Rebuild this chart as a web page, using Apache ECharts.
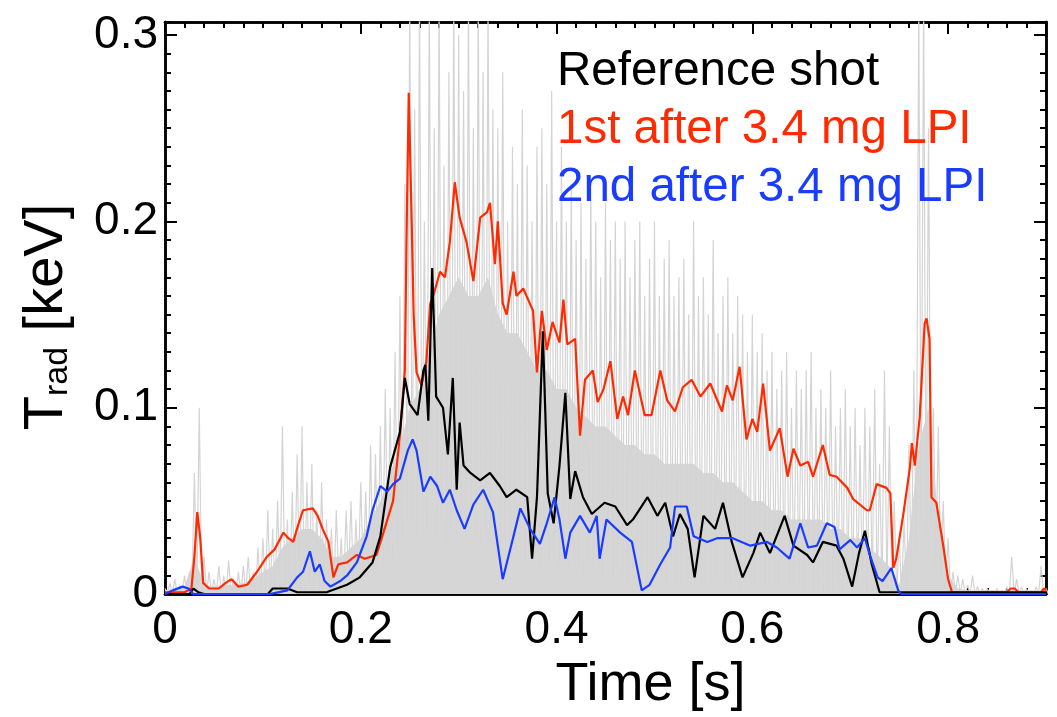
<!DOCTYPE html>
<html>
<head>
    <meta charset="utf-8">
    <title>Trad time traces</title>
    <script src="https://cdn.jsdelivr.net/npm/echarts@6/dist/echarts.min.js"></script>
    <style>
        html, body { margin: 0; padding: 0; background: #fff; }
        #main { width: 1057px; height: 717px; }
    </style>
</head>
<body>
<div id="main"></div>
<script type="text/javascript">
    // curves: [time s, Trad keV]
    var red = [
        [0,0.001],[0.02,0.001],[0.027,0.003],[0.030,0.02],[0.033,0.044],[0.036,0.03],[0.039,0.006],[0.045,0.003],
        [0.055,0.003],[0.062,0.006],[0.068,0.008],[0.075,0.004],[0.084,0.005],[0.094,0.012],[0.104,0.020],[0.112,0.024],
        [0.121,0.033],[0.126,0.030],[0.131,0.028],[0.136,0.037],[0.141,0.045],[0.151,0.046],[0.156,0.042],[0.161,0.035],
        [0.167,0.028],[0.172,0.009],[0.177,0.016],[0.186,0.017],[0.196,0.021],[0.204,0.019],[0.216,0.021],[0.222,0.031],
        [0.233,0.050],[0.240,0.085],[0.245,0.12],[0.247,0.2],[0.249,0.269],[0.252,0.2],[0.254,0.15],[0.257,0.119],
        [0.262,0.112],[0.267,0.125],[0.271,0.156],[0.274,0.160],[0.281,0.173],[0.286,0.170],[0.291,0.189],[0.296,0.221],
        [0.301,0.202],[0.308,0.189],[0.315,0.168],[0.322,0.202],[0.329,0.205],[0.332,0.210],[0.337,0.177],[0.340,0.200],
        [0.345,0.156],[0.349,0.150],[0.356,0.173],[0.359,0.160],[0.366,0.164],[0.376,0.152],[0.380,0.119],[0.385,0.152],
        [0.390,0.131],[0.396,0.146],[0.403,0.135],[0.407,0.158],[0.411,0.134],[0.419,0.137],[0.424,0.085],[0.429,0.115],
        [0.437,0.120],[0.442,0.103],[0.448,0.110],[0.455,0.125],[0.462,0.094],[0.468,0.106],[0.473,0.096],[0.480,0.120],
        [0.490,0.096],[0.497,0.096],[0.506,0.120],[0.513,0.104],[0.521,0.098],[0.529,0.111],[0.538,0.115],[0.547,0.106],
        [0.557,0.113],[0.569,0.098],[0.574,0.112],[0.580,0.104],[0.587,0.122],[0.594,0.083],[0.600,0.094],[0.605,0.087],
        [0.611,0.113],[0.618,0.077],[0.628,0.089],[0.636,0.063],[0.642,0.078],[0.649,0.069],[0.657,0.071],[0.662,0.063],
        [0.672,0.080],[0.679,0.064],[0.686,0.063],[0.697,0.057],[0.703,0.051],[0.717,0.045],[0.720,0.045],[0.727,0.059],
        [0.737,0.057],[0.741,0.054],[0.744,0.014],[0.747,0.019],[0.754,0.042],[0.761,0.068],[0.763,0.081],[0.766,0.069],
        [0.771,0.095],[0.776,0.145],[0.778,0.148],[0.781,0.137],[0.783,0.052],[0.788,0.049],[0.795,0.026],[0.800,0.008],
        [0.804,0.001],[0.86,0.001],[0.864,0.003],[0.868,0.003],[0.872,0.001],[0.895,0.001],[0.898,0.003],[0.9,0.002]
    ];
    var black = [
        [0,0],[0.025,0],[0.029,0.003],[0.034,0.001],[0.04,0],[0.105,0],[0.110,0.003],[0.125,0.003],[0.135,0.001],
        [0.165,0.001],[0.186,0.005],[0.199,0.009],[0.212,0.017],[0.220,0.031],[0.230,0.068],[0.240,0.087],[0.245,0.116],
        [0.250,0.102],[0.258,0.096],[0.264,0.120],[0.266,0.123],[0.269,0.093],[0.273,0.175],[0.277,0.106],[0.284,0.100],
        [0.289,0.075],[0.294,0.116],[0.298,0.056],[0.301,0.092],[0.305,0.069],[0.312,0.065],[0.322,0.061],[0.332,0.065],
        [0.342,0.058],[0.349,0.052],[0.359,0.056],[0.370,0.052],[0.375,0.019],[0.380,0.052],[0.386,0.141],[0.391,0.054],
        [0.397,0.038],[0.403,0.069],[0.409,0.108],[0.414,0.051],[0.419,0.066],[0.427,0.052],[0.436,0.043],[0.449,0.049],
        [0.460,0.047],[0.472,0.037],[0.478,0.040],[0.493,0.052],[0.503,0.042],[0.511,0.049],[0.519,0.031],[0.526,0.043],
        [0.534,0.035],[0.541,0.009],[0.550,0.042],[0.562,0.035],[0.570,0.049],[0.579,0.028],[0.590,0.009],[0.601,0.022],
        [0.608,0.033],[0.618,0.022],[0.633,0.042],[0.642,0.026],[0.656,0.021],[0.662,0.017],[0.672,0.028],[0.686,0.026],
        [0.693,0.019],[0.702,0.004],[0.709,0.022],[0.715,0.034],[0.722,0.016],[0.730,0.001],[0.9,0.001]
    ];
    var blue = [
        [0,0],[0.008,0.002],[0.018,0.004],[0.024,0.003],[0.029,0],[0.107,0],[0.125,0.002],[0.135,0.009],[0.141,0.012],
        [0.148,0.023],[0.153,0.012],[0.158,0.016],[0.163,0.007],[0.169,0.004],[0.179,0.007],[0.186,0.010],[0.196,0.017],
        [0.206,0.031],[0.212,0.045],[0.220,0.058],[0.227,0.055],[0.233,0.059],[0.240,0.062],[0.248,0.077],[0.253,0.083],
        [0.257,0.077],[0.264,0.055],[0.271,0.063],[0.278,0.058],[0.284,0.049],[0.291,0.056],[0.298,0.045],[0.306,0.035],
        [0.315,0.048],[0.325,0.056],[0.335,0.044],[0.345,0.008],[0.356,0.031],[0.363,0.046],[0.373,0.035],[0.383,0.027],
        [0.390,0.038],[0.398,0.052],[0.403,0.040],[0.409,0.019],[0.414,0.033],[0.424,0.042],[0.434,0.033],[0.441,0.042],
        [0.444,0.019],[0.451,0.040],[0.465,0.033],[0.477,0.028],[0.487,0.002],[0.495,0.005],[0.506,0.016],[0.516,0.025],
        [0.521,0.047],[0.533,0.047],[0.540,0.031],[0.554,0.028],[0.564,0.030],[0.580,0.030],[0.598,0.026],[0.615,0.028],
        [0.625,0.025],[0.638,0.019],[0.649,0.038],[0.657,0.025],[0.666,0.026],[0.676,0.038],[0.684,0.036],[0.689,0.024],
        [0.700,0.029],[0.707,0.025],[0.715,0.030],[0.720,0.021],[0.728,0.009],[0.733,0.007],[0.742,0.014],[0.749,0.002],
        [0.752,0],[0.9,0]
    ];

    // raw grey signal: spike tops and troughs every 5 ms, t = 0 ... 0.9
    var greyStep = 0.005;
    var greyHigh = [
        0.003,0.006,0.008,0.005,0.01,0.012,0.065,0.10,0.02,0.012,0.008,0.015,0.01,0.018,0.008,0.012,0.015,0.02,0.012,0.025,
        0.03,0.045,0.035,0.05,0.09,0.04,0.055,0.075,0.09,0.06,0.07,0.045,0.06,0.04,0.035,0.045,0.03,0.045,0.05,0.04,
        0.06,0.055,0.08,0.075,0.09,0.11,0.10,0.13,0.16,0.22,0.32,0.26,0.32,0.2,0.32,0.25,0.32,0.23,0.28,0.32,
        0.30,0.27,0.32,0.25,0.32,0.28,0.32,0.26,0.25,0.28,0.2,0.24,0.22,0.26,0.23,0.2,0.24,0.25,0.22,0.27,
        0.2,0.24,0.2,0.22,0.19,0.21,0.18,0.22,0.2,0.17,0.21,0.19,0.2,0.18,0.2,0.17,0.19,0.2,0.16,0.18,
        0.2,0.16,0.18,0.19,0.16,0.17,0.18,0.15,0.2,0.16,0.17,0.15,0.19,0.14,0.16,0.17,0.14,0.16,0.15,0.13,
        0.15,0.13,0.14,0.12,0.13,0.11,0.12,0.13,0.1,0.12,0.11,0.12,0.13,0.1,0.11,0.1,0.12,0.09,0.1,0.11,
        0.09,0.1,0.08,0.1,0.09,0.11,0.07,0.12,0.09,0.05,0.03,0.04,0.08,0.12,0.32,0.32,0.25,0.1,0.09,0.05,
        0.03,0.012,0.01,0.008,0.005,0.01,0.004,0.003,0.003,0.002,0.003,0.002,0.004,0.02,0.008,0.004,0.003,0.002,0.004,0.015,0.003
    ];
    var greyLow = [
        0,0,0,0,0,0,0,0,0,0,0,0,0,0,0,0,0,0,0,0,
        0,0.002,0,0.003,0.001,0,0.004,0.002,0,0.005,0.002,0,0.003,0.005,0.002,0.006,0.004,0.008,0.005,0.01,
        0.008,0.012,0.01,0.015,0.012,0.02,0.018,0.025,0.03,0.035,0.04,0.03,0.05,0.035,0.045,0.03,0.04,0.025,0.035,0.03,
        0.04,0.028,0.035,0.03,0.025,0.032,0.028,0.03,0.022,0.03,0.025,0.02,0.028,0.018,0.025,0.02,0.015,0.022,0.018,0.02,
        0.015,0.02,0.012,0.018,0.015,0.01,0.016,0.012,0.015,0.01,0.012,0.008,0.014,0.01,0.006,0.012,0.008,0.01,0.005,0.009,
        0.007,0.01,0.005,0.008,0.006,0.004,0.008,0.005,0.007,0.004,0.006,0.004,0.007,0.003,0.005,0.004,0.006,0.003,0.005,0.002,
        0.004,0.003,0.005,0.002,0.004,0.003,0.002,0.004,0.002,0.003,0.002,0.004,0.002,0.003,0.001,0.003,0.002,0.004,0.002,0.003,
        0.001,0.002,0.003,0.001,0.002,0.001,0.002,0.001,0.001,0,0,0,0.005,0.02,0.04,0.03,0.035,0.015,0.01,0.005,
        0,0,0,0,0,0,0,0,0,0,0,0,0,0,0,0,0,0,0,0,0
    ];
    // upper edge of the nearly solid grey core, every 10 ms
    var coreStep = 0.01;
    var greyCore = [
        0.002,0.003,0.004,0.02,0.005,0.004,0.005,0.005,0.006,0.008,
        0.012,0.015,0.025,0.03,0.035,0.035,0.03,0.02,0.02,0.025,
        0.03,0.04,0.05,0.065,0.08,0.1,0.11,0.13,0.15,0.16,
        0.17,0.16,0.16,0.17,0.15,0.14,0.14,0.13,0.12,0.12,
        0.11,0.11,0.1,0.095,0.09,0.09,0.085,0.08,0.08,0.075,
        0.075,0.07,0.07,0.07,0.07,0.065,0.065,0.06,0.06,0.055,
        0.05,0.05,0.045,0.045,0.04,0.04,0.04,0.04,0.035,0.035,
        0.03,0.03,0.025,0.02,0.015,0.005,0.03,0.08,0.1,0.04,
        0.01,0.003,0.002,0.002,0.002,0.002,0.002,0.002,0.002,0.002,0.002
    ];

    var legendNames = ['Reference shot', '1st after 3.4 mg LPI', '2nd after 3.4 mg LPI'];
    var lineColors = ['#000000', '#ff2a00', '#1a3cff'];

    var greyPts = [];
    for (var i = 0; i < greyHigh.length; i++) {
        greyPts.push([i * greyStep, greyHigh[i]]);
        greyPts.push([i * greyStep + greyStep / 2, greyLow[i]]);
    }
    var corePts = greyCore.map(function (v, k) { return [k * coreStep, v]; });

    var font = 'Liberation Sans, Arial, Helvetica, sans-serif';
    var frame = {onZero: false, lineStyle: {color: '#000', width: 2.5}};

    function xAx(pos, interval, tickLen, labels) {
        return {
            type: 'value', position: pos, min: 0, max: 0.9, interval: interval,
            axisLine: frame,
            axisTick: {inside: true, length: tickLen, lineStyle: {color: '#000', width: 2}},
            splitLine: {show: false},
            axisLabel: labels ? {
                show: true, fontSize: 46, fontFamily: font, color: '#000', margin: 13, showMaxLabel: false
            } : {show: false}
        };
    }
    function yAx(pos, interval, tickLen, labels) {
        return {
            type: 'value', position: pos, min: 0, max: 0.307, interval: interval,
            axisLine: frame,
            axisTick: {inside: true, length: tickLen, lineStyle: {color: '#000', width: 2}},
            splitLine: {show: false},
            axisLabel: labels ? {
                show: true, fontSize: 46, fontFamily: font, color: '#000', margin: 7, showMaxLabel: false
            } : {show: false}
        };
    }

    var xMain = xAx('bottom', 0.2, 12, true);
    xMain.name = 'Time [s]';
    xMain.nameLocation = 'middle';
    xMain.nameGap = 40;
    xMain.nameTextStyle = {fontSize: 54, fontFamily: font, color: '#000', padding: [0, 0, 0, 90]};

    var yMain = yAx('left', 0.1, 12, true);
    yMain.name = '{t|T}{s|rad}{t| [keV]}';
    yMain.nameLocation = 'middle';
    yMain.nameRotate = 90;
    yMain.nameGap = 90;
    yMain.nameTextStyle = {
        fontFamily: font, color: '#000', padding: [0, 18, 0, 0],
        rich: {
            t: {fontSize: 56, lineHeight: 56, fontFamily: font, color: '#000', verticalAlign: 'bottom'},
            s: {fontSize: 34, lineHeight: 34, fontFamily: font, color: '#000', verticalAlign: 'bottom'}
        }
    };

    function trace(name, data, color, z) {
        return {
            name: name, type: 'line', data: data, showSymbol: false,
            lineStyle: {color: color, width: 2.2}, itemStyle: {color: color}, z: z
        };
    }

    var myChart = echarts.init(document.getElementById('main'));
    var option = {
        animation: false,
        backgroundColor: '#fff',
        grid: {left: 165, top: 22, width: 881, height: 589, containLabel: false},
        legend: {
            orient: 'vertical', left: 552, top: 48, padding: 0,
            icon: 'none', itemWidth: 0, itemGap: 10, selectedMode: false,
            textStyle: {fontSize: 47.5, fontFamily: font, lineHeight: 47.5},
            data: legendNames.map(function (n, k) {
                return {name: n, textStyle: {color: lineColors[k]}};
            })
        },
        xAxis: [
            xMain,
            xAx('bottom', 0.02, 6, false),
            xAx('top', 0.2, 12, false),
            xAx('top', 0.02, 6, false)
        ],
        yAxis: [
            yMain,
            yAx('left', 0.01, 6, false),
            yAx('right', 0.1, 12, false),
            yAx('right', 0.01, 6, false)
        ],
        series: [
            {
                name: 'core', type: 'line', data: corePts, showSymbol: false, silent: true,
                lineStyle: {width: 0}, areaStyle: {color: '#d6d6d6', opacity: 1}, z: 1
            },
            {
                name: 'raw', type: 'line', data: greyPts, showSymbol: false, silent: true,
                lineStyle: {color: '#d4d4d4', width: 1.2}, z: 1
            },
            trace(legendNames[1], red, lineColors[1], 2),
            trace(legendNames[0], black, lineColors[0], 3),
            trace(legendNames[2], blue, lineColors[2], 4)
        ]
    };
    myChart.setOption(option);
</script>
</body>
</html>
